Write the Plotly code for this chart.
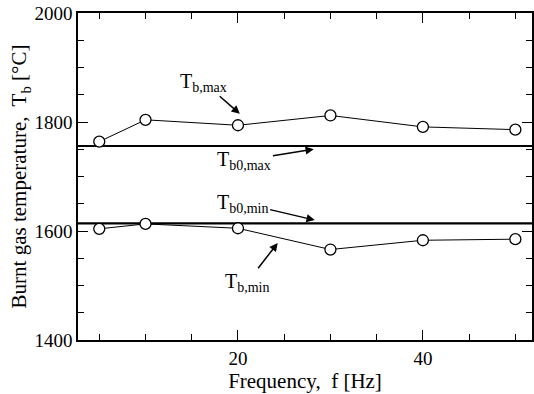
import plotly.graph_objects as go

freq = [5, 10, 20, 30, 40, 50]
tb_max = [1764, 1804, 1794, 1812, 1791, 1786]
tb_min = [1604, 1613, 1605, 1566, 1583, 1585]
tb0_max = 1756
tb0_min = 1614
x_range = [2.7, 51.8]
y_range = [1400, 2000]
x_ticks = [20, 40]
x_minor = [5, 10, 15, 25, 30, 35, 45, 50]
y_ticks = [1400, 1600, 1800, 2000]
y_minor = [1450, 1500, 1550, 1650, 1700, 1750, 1850, 1900, 1950]

SERIF = "Liberation Serif"

fig = go.Figure()

for lvl in [tb0_max, tb0_min]:
    fig.add_trace(go.Scatter(x=x_range, y=[lvl, lvl], mode="lines",
                             line=dict(color="black", width=2.2),
                             hoverinfo="skip", showlegend=False))

for ys in [tb_max, tb_min]:
    fig.add_trace(go.Scatter(x=freq, y=ys, mode="lines+markers",
                             line=dict(color="black", width=1),
                             marker=dict(symbol="circle", size=11, color="white",
                                         line=dict(color="black", width=1.3)),
                             showlegend=False))

# empty trace so the minor-tick overlay axes are drawn
fig.add_trace(go.Scatter(x=[None], y=[None], xaxis="x2", yaxis="y2",
                         hoverinfo="skip", showlegend=False))

def ann(text, x, y, tx, ty):
    # label centred at (tx, ty), arrow pointing to (x, y)
    fig.add_annotation(x=x, y=y, ax=tx, ay=ty, xref="x", yref="y", axref="x", ayref="y",
                       text=text, showarrow=True, arrowhead=2, arrowsize=1.1,
                       arrowwidth=1.5, arrowcolor="black",
                       font=dict(family=SERIF, size=20, color="black"))

ann("T<sub>b,max</sub>", 20.2, 1815, 16.3, 1873)
ann("T<sub>b0,max</sub>", 28.2, 1750, 20.7, 1730)
ann("T<sub>b0,min</sub>", 28.3, 1620, 20.5, 1651)
ann("T<sub>b,min</sub>", 24.3, 1578, 21.0, 1506)

def axis(rng, ticks, title, standoff):
    return dict(range=rng, tickvals=ticks, ticklen=10, tickwidth=1.3,
                showline=True, linecolor="black", linewidth=1.5, mirror="ticks",
                ticks="inside", tickcolor="black", showgrid=False, zeroline=False,
                tickfont=dict(family=SERIF, size=19, color="black"),
                title=dict(text=title, standoff=standoff,
                           font=dict(family=SERIF, size=21, color="black")))

def minor_axis(rng, ticks, over):
    return dict(range=rng, tickvals=ticks, ticklen=6, tickwidth=1.1,
                ticks="inside", tickcolor="black", showticklabels=False,
                showline=False, mirror="ticks", showgrid=False, zeroline=False,
                overlaying=over)

fig.update_layout(
    width=534, height=394, margin=dict(l=78, r=0, t=13, b=54),
    font=dict(family=SERIF, size=19, color="black"),
    plot_bgcolor="white", paper_bgcolor="white", showlegend=False,
    xaxis=axis(x_range, x_ticks, "Frequency,  f [Hz]", 0),
    yaxis=axis(y_range, y_ticks, "Burnt gas temperature,  T<sub>b</sub> [°C]", 2),
    xaxis2=dict(minor_axis(x_range, x_minor, "x"), anchor="y2"),
    yaxis2=dict(minor_axis(y_range, y_minor, "y"), anchor="x2"),
)

fig.write_html("out.html")
